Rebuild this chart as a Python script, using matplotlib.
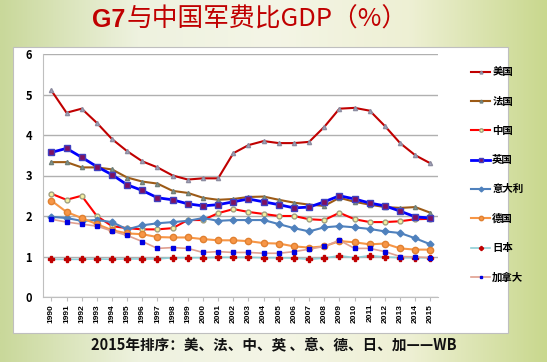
import numpy as np
import matplotlib
matplotlib.use("Agg")
import matplotlib.pyplot as plt
from matplotlib.patches import Rectangle

plt.rcParams['font.family'] = ['Noto Sans CJK SC', 'DejaVu Sans']

years = [str(y) for y in range(1990, 2016)]

usa = [5.1, 4.55, 4.65, 4.3, 3.9, 3.6, 3.35, 3.2, 3.0, 2.9, 2.93, 2.93, 3.55, 3.75, 3.85, 3.8, 3.8, 3.83, 4.2, 4.65, 4.67, 4.6, 4.22, 3.8, 3.5, 3.3]
france = [3.33, 3.33, 3.2, 3.2, 3.15, 2.95, 2.85, 2.8, 2.62, 2.57, 2.45, 2.4, 2.42, 2.47, 2.48, 2.4, 2.33, 2.28, 2.25, 2.45, 2.35, 2.28, 2.22, 2.2, 2.22, 2.08]
china = [2.55, 2.4, 2.5, 2.0, 1.75, 1.7, 1.67, 1.67, 1.7, 1.9, 1.9, 2.07, 2.17, 2.1, 2.05, 2.0, 2.0, 1.92, 1.9, 2.08, 1.92, 1.85, 1.85, 1.87, 1.92, 1.93]
uk = [3.57, 3.67, 3.45, 3.22, 3.02, 2.77, 2.63, 2.45, 2.4, 2.3, 2.25, 2.28, 2.35, 2.42, 2.35, 2.28, 2.2, 2.22, 2.35, 2.5, 2.42, 2.32, 2.25, 2.12, 1.98, 1.95]
italy = [1.98, 1.95, 1.88, 1.9, 1.85, 1.67, 1.77, 1.82, 1.85, 1.88, 1.95, 1.88, 1.9, 1.9, 1.9, 1.8, 1.7, 1.62, 1.72, 1.75, 1.72, 1.68, 1.62, 1.58, 1.45, 1.3]
germany = [2.38, 2.1, 1.95, 1.8, 1.65, 1.57, 1.55, 1.48, 1.47, 1.47, 1.43, 1.4, 1.4, 1.38, 1.33, 1.32, 1.25, 1.22, 1.25, 1.38, 1.35, 1.3, 1.32, 1.2, 1.17, 1.17]
japan = [0.93, 0.93, 0.93, 0.94, 0.93, 0.94, 0.94, 0.94, 0.97, 0.97, 0.97, 0.98, 0.98, 0.98, 0.97, 0.97, 0.96, 0.93, 0.96, 1.02, 0.97, 1.02, 0.99, 0.97, 0.97, 0.97]
canada = [1.92, 1.85, 1.8, 1.75, 1.63, 1.52, 1.37, 1.2, 1.22, 1.2, 1.1, 1.12, 1.1, 1.1, 1.08, 1.08, 1.12, 1.18, 1.25, 1.4, 1.2, 1.2, 1.12, 1.0, 0.99, 0.97]

fig = plt.figure(figsize=(5.47, 3.62), dpi=100)
fig.patch.set_facecolor('#dfe8c4')

# soft background
bg = fig.add_axes([0, 0, 1, 1], zorder=-10)
grad = np.linspace(0, 1, 256).reshape(1, -1)
bg.imshow(np.vstack([grad, grad]), aspect='auto', cmap=matplotlib.colors.LinearSegmentedColormap.from_list(
    'bg', ['#c9d89a', '#eef2df', '#f4f5e6', '#eef0d4', '#c9d88e']), extent=[0, 1, 0, 1])
bg.axis('off')
bg.add_patch(Rectangle((13/547, 1-333/362), 495/547, 286/362, facecolor='white',
                       edgecolor='#bfbfbf', lw=0.8, transform=bg.transAxes))

# title: bold "G7", lighter CJK part
t1 = fig.text(92/547, 0.945, 'G7', ha='left', va='center', color='#c00000',
              fontsize=18, fontweight='bold', family=['Liberation Sans', 'DejaVu Sans'])
fig.canvas.draw()
bb = t1.get_window_extent()
fig.text(bb.x1 / fig.bbox.width + 0.002, 0.945, '与中国军费比GDP（%）', ha='left', va='center',
         color='#c00000', fontsize=18.5)

ax = fig.add_axes([43/547, 1-297/362, 395/547, 243/362])
ax.set_facecolor('none')
x = np.arange(len(years))

series = [
    ('美国', usa, dict(color='#c00000', marker='^', ms=3, mfc='#a6a6c0', mec='#8c8ca0', lw=1.5)),
    ('法国', france, dict(color='#9c5a16', marker='^', ms=3, mfc='#8a9a8a', mec='#70807a', lw=1.5)),
    ('中国', china, dict(color='#ff0000', marker='o', ms=3.5, mfc='#f5f0a0', mec='#a0a080', lw=1.5)),
    ('英国', uk, dict(color='#0000ff', marker='s', ms=4.5, mfc='#7f1060', mec='#4040c0', lw=2)),
    ('意大利', italy, dict(color='#4f81bd', marker='D', ms=3.5, mfc='#4f81bd', mec='#4f81bd', lw=1.5)),
    ('德国', germany, dict(color='#f79646', marker='o', ms=4.5, mfc='#f79646', mec='#e08030', lw=1.5)),
    ('日本', japan, dict(color='#8fcfd6', marker='P', ms=4, mfc='#c00000', mec='#c00000', lw=1.2)),
    ('加拿大', canada, dict(color='#e0a090', marker='s', ms=3, mfc='#0000e0', mec='#0000e0', lw=1.2)),
]
for name, vals, st in series:
    ax.plot(x, vals, label=name, **st)

ax.set_xlim(-0.55, 25.5)
ax.set_ylim(0, 6)
ax.set_yticks(range(7))
ax.yaxis.grid(True, color='#b0b0b0', lw=1)
ax.set_axisbelow(True)
ax.set_xticks(x)
ax.set_xticklabels(years, rotation=90, fontsize=6, fontweight='bold', family=['Liberation Sans', 'DejaVu Sans'])
for lab in ax.get_yticklabels():
    lab.set_fontsize(8)
    lab.set_fontweight('bold')
ax.tick_params(axis='y', length=0, pad=8)
ax.tick_params(axis='x', length=3, color='#bfbfbf', pad=2)
for s in ['top', 'right']:
    ax.spines[s].set_visible(False)
ax.spines['left'].set_color('#bfbfbf')
ax.spines['bottom'].set_color('#bfbfbf')

leg = fig.legend(loc='upper left', bbox_to_anchor=(462/547, 1-58/362), frameon=False,
                 fontsize=7.5, labelspacing=1.85, handlelength=1.8, handletextpad=0.2,
                 markerscale=0.7)
for t in leg.get_texts():
    t.set_fontweight('bold')

fig.text(0.5, 1-345/362, '2015年排序：美、法、中、英 、意、德、日、加——WB', ha='center', va='center',
         fontsize=10.5, fontweight='bold', color='#111111')

fig.savefig('out.png', dpi=100)
